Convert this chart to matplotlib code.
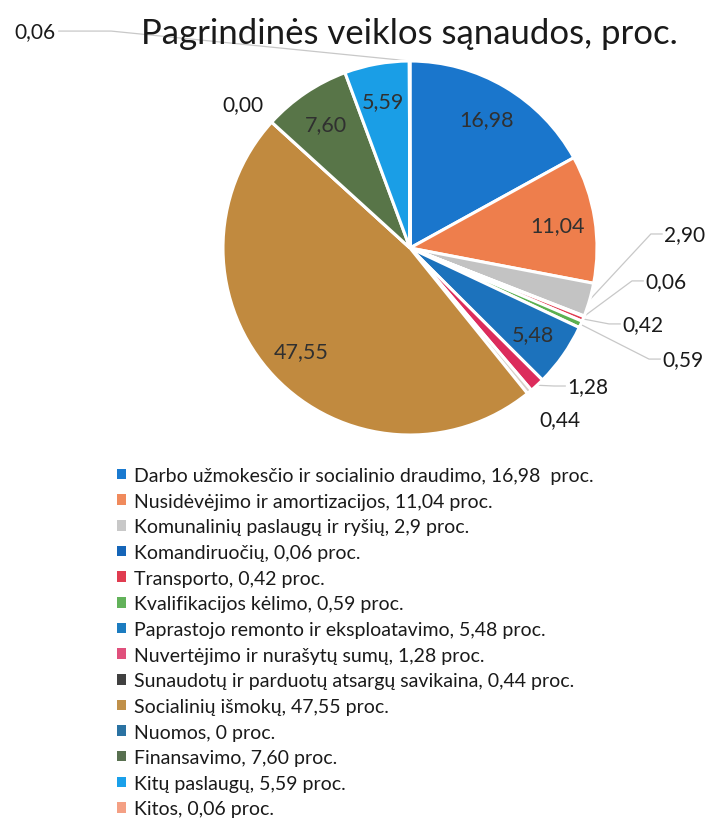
import numpy as np
import matplotlib
matplotlib.use('Agg')
import matplotlib.pyplot as plt
from matplotlib.patches import Patch

plt.rcParams['font.family'] = ['Lato', 'DejaVu Sans']

# duomenys
kategorijos = ['Darbo užmokesčio ir socialinio draudimo',
               'Nusidėvėjimo ir amortizacijos',
               'Komunalinių paslaugų ir ryšių',
               'Komandiruočių',
               'Transporto',
               'Kvalifikacijos kėlimo',
               'Paprastojo remonto ir eksploatavimo',
               'Nuvertėjimo ir nurašytų sumų',
               'Sunaudotų ir parduotų atsargų savikaina',
               'Socialinių išmokų',
               'Nuomos',
               'Finansavimo',
               'Kitų paslaugų',
               'Kitos']
reiksmes = [16.98, 11.04, 2.90, 0.06, 0.42, 0.59, 5.48, 1.28, 0.44, 47.55, 0.00, 7.60, 5.59, 0.06]
legendos_sk = ['16,98 ', '11,04', '2,9', '0,06', '0,42', '0,59', '5,48', '1,28', '0,44', '47,55', '0', '7,60', '5,59', '0,06']

spalvos = ['#1a76cc', '#ee7e4c', '#c3c3c3', '#1565b8', '#e03c50', '#5cb050', '#1c72bc',
           '#dc2c5c', '#d8d0c8', '#c18a3f', '#2a70a0', '#587548', '#1a9ee6', '#f5a080']
leg_spalvos = ['#1a7ad0', '#f08a5c', '#c8c8c8', '#1565b8', '#e03c50', '#62b25a', '#1c7cc0',
               '#e0507c', '#404040', '#c0904a', '#2a72a2', '#587050', '#1aa0ea', '#f4a084']

# kurie uzrasai viduje, kurie isoreje
viduje = [True, True, False, False, False, False, True, False, False, True, False, True, True, False]
# isoriniu uzrasu vietos (pie vienetais), ha
isore = {2: (1.358, 0.075, 'left', True),
         3: (1.257, -0.176, 'left', True),
         4: (1.134, -0.406, 'left', True),
         5: (1.348, -0.594, 'left', True),
         7: (0.840, -0.738, 'left', True),
         8: (0.802, -0.914, 'center', False),
         10: (-0.893, 0.770, 'center', False),
         13: (-1.898, 1.160, 'right', True)}

fig = plt.figure(figsize=(7.05, 8.2), dpi=100)
ax = fig.add_axes([223/705, 1 - 436/820, 374/705, 374/820])

wedges, _ = ax.pie(reiksmes, colors=spalvos, startangle=90, counterclock=False,
                   wedgeprops=dict(edgecolor='white', linewidth=2.2))
ax.set_xlim(-1, 1)
ax.set_ylim(-1, 1)
ax.set_aspect('equal')
ax.axis('off')

def fmt(v):
    return ('%.2f' % v).replace('.', ',')

for i, w in enumerate(wedges):
    ang = np.deg2rad((w.theta1 + w.theta2) / 2)
    if viduje[i]:
        ax.text(0.8 * np.cos(ang), 0.8 * np.sin(ang), fmt(reiksmes[i]),
                ha='center', va='center', fontsize=15.5, color='#303030')
    else:
        tx, ty, ha, linija = isore[i]
        ax.text(tx, ty, fmt(reiksmes[i]), ha=ha, va='center', fontsize=15,
                color='#1a1a1a', clip_on=False)
        if linija:
            x0, y0 = np.cos(ang), np.sin(ang)
            if ha == 'left':
                xe = tx - 0.07
                xk = tx - 0.01
            else:
                xe = tx + 0.30
                xk = tx + 0.02
            ax.plot([x0, xe, xk], [y0, ty, ty], color='#c8c8c8', lw=0.9,
                    clip_on=False, zorder=0)

fig.text(409/705, 1 - 34/820, 'Pagrindinės veiklos sąnaudos, proc.',
         ha='center', va='center', fontsize=25, color='#1a1a1a')

rankenos = [Patch(facecolor=c, edgecolor='none') for c in leg_spalvos]
etiketes = ['%s, %s proc.' % (k, s) for k, s in zip(kategorijos, legendos_sk)]
leg = fig.legend(rankenos, etiketes, loc='upper left', bbox_to_anchor=(117/705, 1 - 468/820),
                 frameon=False, handlelength=0.45, handleheight=0.45,
                 handletextpad=0.4, labelspacing=0.445, borderaxespad=0, borderpad=0,
                 labelcolor='#1a1a1a', prop={'size': 14})

fig.savefig('out.png', dpi=100)
